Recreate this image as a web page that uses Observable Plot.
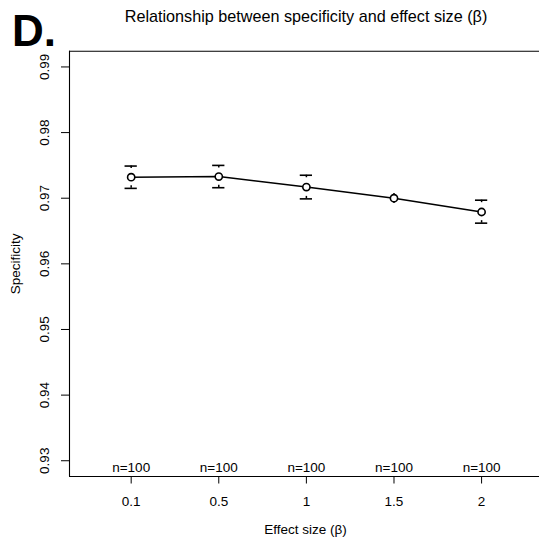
<!DOCTYPE html>
<html>
<head>
<meta charset="utf-8">
<script src="https://cdn.jsdelivr.net/npm/d3@7"></script>
<script src="https://cdn.jsdelivr.net/npm/@observablehq/plot@0.6"></script>
<style>
  body { margin: 0; background: #fff; }
  #wrap { position: relative; width: 539px; height: 543px; font-family: "Liberation Sans", Arial, sans-serif; }
  #panel { position: absolute; left: 12px; top: 8.5px; font-size: 44px; font-weight: bold; line-height: 1; color: #000; }
  #title { position: absolute; left: 0; width: 612px; top: 6.5px; text-align: center; font-size: 16.2px; line-height: 1.2; color: #000; }
  #chart { position: absolute; left: 0; top: 0; }
</style>
</head>
<body>
<div id="wrap">
  <div id="chart"></div>
  <div id="panel">D.</div>
  <div id="title">Relationship between specificity and effect size (β)</div>
</div>
<script>
const xPos = [1, 2, 3, 4, 5];
const xLabels = ["0.1", "0.5", "1", "1.5", "2"];
const specificity = [0.9732, 0.9733, 0.9717, 0.9700, 0.9679];
const upper = [0.9749, 0.9750, 0.9735, 0.9707, 0.9697];
const lower = [0.9715, 0.9716, 0.9699, 0.9692, 0.9662];
const nLabels = ["n=100", "n=100", "n=100", "n=100", "n=100"];
const yTicks = [0.93, 0.94, 0.95, 0.96, 0.97, 0.98, 0.99];
const xDomain = [0.296, 5.661];
const yDomain = [0.9276, 0.9924];

const data = xPos.map((x, i) => ({x, label: xLabels[i], y: specificity[i], hi: upper[i], lo: lower[i], n: nLabels[i]}));
const capHalf = 0.07;
const capped = data.filter(d => d.hi - d.y > 0.001);

const font = '"Liberation Sans", Arial, sans-serif';
const fs = 13.5;

const chart = Plot.plot({
  width: 539,
  height: 543,
  marginTop: 50.7,
  marginBottom: 67,
  marginLeft: 69,
  marginRight: 0,
  style: {fontFamily: font, fontSize: fs + "px", color: "#000", background: "transparent"},
  x: {type: "linear", domain: xDomain, axis: null},
  y: {type: "linear", domain: yDomain, axis: null},
  marks: [
    Plot.ruleX([xDomain[0]], {stroke: "#000", strokeWidth: 1.1}),
    Plot.ruleY([yDomain[0]], {stroke: "#000", strokeWidth: 1.1}),
    Plot.ruleY([yDomain[1]], {stroke: "#000", strokeWidth: 1.1}),
    Plot.axisY(yTicks, {anchor: "left", tickSize: 8, tickRotate: -90, tickPadding: 13, fontSize: fs, label: null, tickFormat: d => d.toFixed(2), stroke: "#000"}),
    Plot.axisX(xPos, {anchor: "bottom", tickSize: 7.5, tickPadding: 12, fontSize: fs, label: null, tickFormat: d => xLabels[xPos.indexOf(d)], stroke: "#000"}),
    Plot.text(["Specificity"], {frameAnchor: "left", dx: -54, rotate: -90, fontSize: fs, textAnchor: "middle", lineAnchor: "middle"}),
    Plot.text(["Effect size (β)"], {frameAnchor: "bottom", dx: 1, dy: 53, fontSize: fs, lineAnchor: "middle"}),
    Plot.text(data, {x: "x", text: "n", frameAnchor: "bottom", dy: -9, fontSize: fs, lineAnchor: "middle"}),
    Plot.ruleY(capped, {x1: d => d.x - capHalf, x2: d => d.x + capHalf, y: "hi", stroke: "#000", strokeWidth: 1.6}),
    Plot.ruleY(capped, {x1: d => d.x - capHalf, x2: d => d.x + capHalf, y: "lo", stroke: "#000", strokeWidth: 1.6}),
    Plot.ruleX(data, {x: "x", y1: "hi", y2: "y", stroke: "#000", strokeWidth: 1.5, strokeDasharray: "2.5 1000"}),
    Plot.ruleX(data, {x: "x", y1: "lo", y2: "y", stroke: "#000", strokeWidth: 1.5, strokeDasharray: "2.5 1000"}),
    Plot.line(data, {x: "x", y: "y", stroke: "#000", strokeWidth: 1.6}),
    Plot.dot(data, {x: "x", y: "y", r: 3.6, stroke: "#000", strokeWidth: 1.6, fill: "#fff"})
  ]
});
document.getElementById("chart").appendChild(chart);
</script>
</body>
</html>
